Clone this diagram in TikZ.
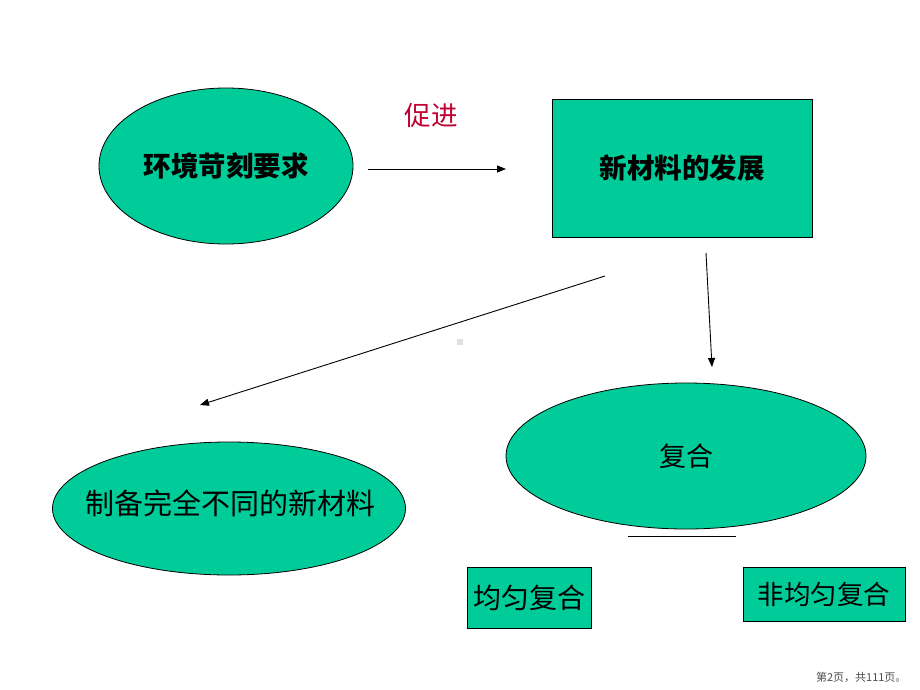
\documentclass[tikz,border=0pt]{standalone}
\usepackage{fontspec}
\setmainfont{Noto Sans CJK SC}
\usetikzlibrary{shapes.geometric,arrows.meta}
\definecolor{gfill}{HTML}{00CC99}
\definecolor{redtxt}{HTML}{C00030}
\tikzset{
  ell/.style={ellipse, draw=black, fill=gfill, inner sep=0pt, line width=0.8pt},
  bx/.style={rectangle, draw=black, fill=gfill, inner sep=0pt, line width=0.8pt},
  arr/.style={-{Triangle[length=9pt,width=7pt]}, line width=0.9pt}
}
\begin{document}
\begin{tikzpicture}[x=1pt,y=-1pt]
\useasboundingbox (0,0) rectangle (920,690);
\node[ell, minimum width=254pt, minimum height=156pt, font=\fontsize{27.5}{31}\selectfont\bfseries] (env) at (226,166) {环境苛刻要求};
\node[bx, minimum width=260pt, minimum height=138pt, font=\fontsize{27.5}{31}\selectfont\bfseries] (newmat) at (682,168) {新材料的发展};
\node[text=redtxt, font=\fontsize{26.5}{30}\selectfont] (promote) at (431,115) {促进};
\node[ell, minimum width=360pt, minimum height=146pt, font=\fontsize{27}{31}\selectfont] (comp) at (686,456) {复合};
\node[ell, minimum width=353pt, minimum height=133pt] (diff) at (229,508.5) {};
\node[font=\fontsize{29}{33}\selectfont, inner sep=0pt] (difftxt) at (230,503) {制备完全不同的新材料};
\node[bx, minimum width=124pt, minimum height=61pt, font=\fontsize{28}{32}\selectfont] (uni) at (529,597.5) {均匀复合};
\node[bx, minimum width=162pt, minimum height=54pt, font=\fontsize{26.5}{30}\selectfont] (nonuni) at (824,594) {非均匀复合};
\coordinate (a1s) at (368,169);
\coordinate (a1e) at (506,169);
\coordinate (a2s) at (605,276);
\coordinate (a2e) at (200,405);
\coordinate (a3s) at (706,253);
\coordinate (a3e) at (712,367);
\coordinate (ls) at (628,536);
\coordinate (le) at (736,536);
\draw[arr] (a1s) -- (a1e);
\draw[arr] (a2s) -- (a2e);
\draw[arr] (a3s) -- (a3e);
\draw[line width=1pt] (ls) -- (le);
\node[fill=black!12, minimum size=6pt, inner sep=0pt] (dot) at (460,342) {};
\node[text=black!70, font=\fontsize{11}{13}\selectfont, anchor=east] (page) at (910,677) {第2页，共111页。};
\end{tikzpicture}
\end{document}
